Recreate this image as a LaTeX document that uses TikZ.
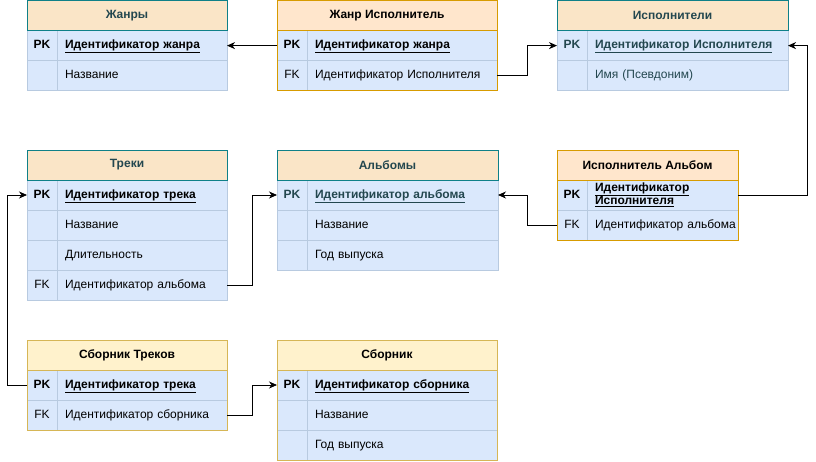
\documentclass[tikz,border=0pt]{standalone}
\usepackage{fontspec}
\setmainfont{Liberation Sans}
\usetikzlibrary{arrows.meta,positioning}

\definecolor{tealline}{HTML}{0E8088}
\definecolor{tealtext}{HTML}{23474F}
\definecolor{peach}{HTML}{FAE5C7}
\definecolor{orfill}{HTML}{FFE6CC}
\definecolor{orline}{HTML}{D79B00}
\definecolor{yefill}{HTML}{FFF2CC}
\definecolor{yeline}{HTML}{D6B656}
\definecolor{rowfill}{HTML}{DAE8FC}
\definecolor{rowline}{HTML}{B8CAE0}

\tikzset{
  every node/.style={font=\fontsize{12}{13}\selectfont, outer sep=0pt},
  hdr/.style={draw, line width=0.8pt, minimum height=30pt, inner sep=0pt, anchor=north west,
    font=\fontsize{12}{13}\selectfont\bfseries},
  hdrteal/.style={hdr, fill=peach, draw=tealline, text=tealtext},
  hdror/.style={hdr, fill=orfill, draw=orline},
  hdrye/.style={hdr, fill=yefill, draw=yeline},
  key/.style={draw=rowline, fill=rowfill, line width=0.6pt, minimum width=30pt, minimum height=30pt, inner sep=0pt,
    text height=8.5pt, text depth=2.5pt},
  pk/.style={key, font=\fontsize{12}{13}\selectfont\bfseries},
  field/.style={draw=rowline, fill=rowfill, line width=0.6pt, text width=#1, inner xsep=0pt, inner ysep=0pt,
    minimum height=30pt, align=left, text height=8.5pt, text depth=2.5pt, execute at begin node=\hspace*{8pt}},
  link/.style={line width=0.8pt, -{Stealth[length=8pt,width=7pt,inset=2.5pt]}},
}

\begin{document}
\begin{tikzpicture}[x=1pt, y=-1pt]
\useasboundingbox (0,0) rectangle (816,461);

% Жанры
\node[hdrteal, minimum width=200pt] (g) at (27,0.6) {Жанры};
\node[pk, below = 0pt of g.south west, anchor=north west] (g1k) {PK};
\node[field=170pt, right = 0pt of g1k] (g1f) {\textbf{\underline{Идентификатор жанра}}};
\node[key, below = 0pt of g1k] (g2k) {};
\node[field=170pt, right = 0pt of g2k] (g2f) {Название};
\draw[tealline, line width=0.8pt] (g.north west) rectangle (g.south east);

% Жанр Исполнитель
\node[hdror, minimum width=220pt] (gi) at (277,0.6) {Жанр Исполнитель};
\node[pk, below = 0pt of gi.south west, anchor=north west] (gi1k) {PK};
\node[field=190pt, right = 0pt of gi1k] (gi1f) {\textbf{\underline{Идентификатор жанра}}};
\node[key, below = 0pt of gi1k] (gi2k) {FK};
\node[field=190pt, right = 0pt of gi2k] (gi2f) {Идентификатор Исполнителя};
\draw[orline, line width=0.8pt] (gi.north west) rectangle (gi2f.south east);
\draw[orline, line width=0.8pt] (gi.south west) -- (gi.south east);

% Исполнители
\node[hdrteal, minimum width=231pt] (ar) at (557,0.6) {Исполнители};
\node[pk, text=tealtext, below = 0pt of ar.south west, anchor=north west] (ar1k) {PK};
\node[field=201pt, text=tealtext, right = 0pt of ar1k] (ar1f) {\textbf{\underline{Идентификатор Исполнителя}}};
\node[key, below = 0pt of ar1k] (ar2k) {};
\node[field=201pt, text=tealtext, right = 0pt of ar2k] (ar2f) {Имя (Псевдоним)};
\draw[tealline, line width=0.8pt] (ar.north west) rectangle (ar.south east);

% Треки
\node[hdrteal, minimum width=200pt] (tr) at (27,150) {Треки};
\node[pk, below = 0pt of tr.south west, anchor=north west] (tr1k) {PK};
\node[field=170pt, right = 0pt of tr1k] (tr1f) {\textbf{\underline{Идентификатор трека}}};
\node[key, below = 0pt of tr1k] (tr2k) {};
\node[field=170pt, right = 0pt of tr2k] (tr2f) {Название};
\node[key, below = 0pt of tr2k] (tr3k) {};
\node[field=170pt, right = 0pt of tr3k] (tr3f) {Длительность};
\node[key, below = 0pt of tr3k] (tr4k) {FK};
\node[field=170pt, right = 0pt of tr4k] (tr4f) {Идентификатор альбома};
\draw[tealline, line width=0.8pt] (tr.north west) rectangle (tr.south east);

% Альбомы
\node[hdrteal, minimum width=221pt] (al) at (277,150) {Альбомы};
\node[pk, text=tealtext, below = 0pt of al.south west, anchor=north west] (al1k) {PK};
\node[field=191pt, text=tealtext, right = 0pt of al1k] (al1f) {\textbf{\underline{Идентификатор альбома}}};
\node[key, below = 0pt of al1k] (al2k) {};
\node[field=191pt, right = 0pt of al2k] (al2f) {Название};
\node[key, below = 0pt of al2k] (al3k) {};
\node[field=191pt, right = 0pt of al3k] (al3f) {Год выпуска};
\draw[tealline, line width=0.8pt] (al.north west) rectangle (al.south east);

% Исполнитель Альбом
\node[hdror, minimum width=181pt] (aa) at (557,150) {Исполнитель Альбом};
\node[pk, below = 0pt of aa.south west, anchor=north west] (aa1k) {PK};
\node[field=151pt, text depth=15.5pt, right = 0pt of aa1k] (aa1f) {\textbf{\underline{Идентификатор}}\\\hspace*{8pt}\textbf{\underline{Исполнителя}}};
\node[key, below = 0pt of aa1k] (aa2k) {FK};
\node[field=151pt, right = 0pt of aa2k] (aa2f) {Идентификатор альбома};
\draw[orline, line width=0.8pt] (aa.north west) rectangle (aa2f.south east);
\draw[orline, line width=0.8pt] (aa.south west) -- (aa.south east);

% Сборник Треков
\node[hdrye, minimum width=200pt] (ct) at (27,340) {Сборник Треков};
\node[pk, below = 0pt of ct.south west, anchor=north west] (ct1k) {PK};
\node[field=170pt, right = 0pt of ct1k] (ct1f) {\textbf{\underline{Идентификатор трека}}};
\node[key, below = 0pt of ct1k] (ct2k) {FK};
\node[field=170pt, right = 0pt of ct2k] (ct2f) {Идентификатор сборника};
\draw[yeline, line width=0.8pt] (ct.north west) rectangle (ct2f.south east);
\draw[yeline, line width=0.8pt] (ct.south west) -- (ct.south east);

% Сборник
\node[hdrye, minimum width=220pt] (cm) at (277,340) {Сборник};
\node[pk, below = 0pt of cm.south west, anchor=north west] (cm1k) {PK};
\node[field=190pt, right = 0pt of cm1k] (cm1f) {\textbf{\underline{Идентификатор сборника}}};
\node[key, below = 0pt of cm1k] (cm2k) {};
\node[field=190pt, right = 0pt of cm2k] (cm2f) {Название};
\node[key, below = 0pt of cm2k] (cm3k) {};
\node[field=190pt, right = 0pt of cm3k] (cm3f) {Год выпуска};
\draw[yeline, line width=0.8pt] (cm.north west) rectangle (cm3f.south east);
\draw[yeline, line width=0.8pt] (cm.south west) -- (cm.south east);

% связи
\draw[link] (gi1k.west) -- (g1f.east);
\draw[link] (gi2f.east) -- ++(30,0) |- (ar1k.west);
\draw[link] (aa1f.east) -- ++(69,0) |- (ar1f.east);
\draw[link] (aa2k.west) -- ++(-30,0) |- (al1f.east);
\draw[link] (tr4f.east) -- ++(25,0) |- (al1k.west);
\draw[link] (ct1k.west) -- ++(-20,0) |- (tr1k.west);
\draw[link] (ct2f.east) -- ++(25,0) |- (cm1k.west);
\end{tikzpicture}
\end{document}
